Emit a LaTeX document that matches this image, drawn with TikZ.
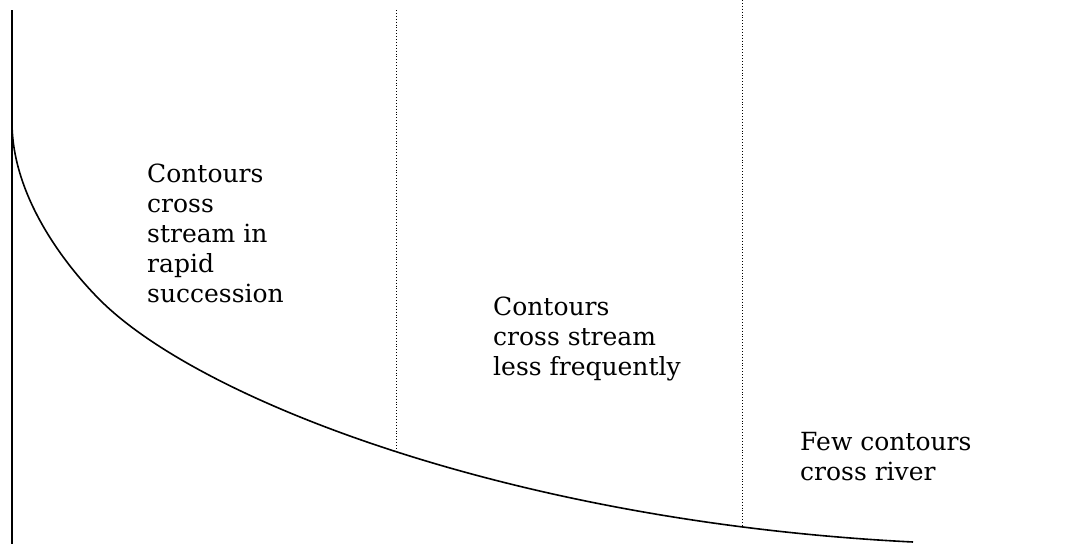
\documentclass[tikz,border=0pt]{standalone}
\usepackage{fontspec}
\setmainfont{DejaVu Serif}
\begin{document}
\begin{tikzpicture}[x=1pt,y=-1pt,
    label text/.style={anchor=base west, inner sep=0pt, align=left,
        font=\fontsize{25}{30}\selectfont}]
    \useasboundingbox (0,0) rectangle (1065,544);

    % Axis
    \coordinate (axtop) at (12,10);
    \coordinate (axbot) at (12,544);
    \draw[line width=1.8pt] (axtop) -- (axbot);

    % Stream profile
    \coordinate (src) at (12,122);
    \coordinate (mid) at (100,300);
    \coordinate (mouth) at (913,542);
    \draw[line width=1.6pt] (src) .. controls (12,200) and (70,270) .. (mid)
        .. controls (200,400) and (513,522) .. (mouth);

    % Zone limits
    \coordinate (lim1top) at (396,10);
    \coordinate (lim1bot) at (396,452);
    \coordinate (lim2top) at (742,0);
    \coordinate (lim2bot) at (742,527);
    \draw[dotted, line width=0.9pt] (lim1top) -- (lim1bot);
    \draw[dotted, line width=0.9pt] (lim2top) -- (lim2bot);

    % Labels
    \node[label text] (upper) at (147,302)
        {Contours\\cross\\stream in\\rapid\\succession};
    \node[label text] (middle) at (493,375)
        {Contours\\cross stream\\less frequently};
    \node[label text] (lower) at (800,480)
        {Few contours\\cross river};
\end{tikzpicture}
\end{document}
